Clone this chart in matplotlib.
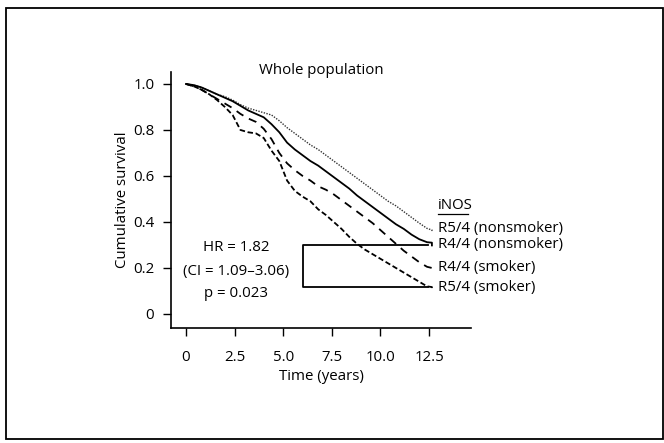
import matplotlib
matplotlib.use("Agg")
import matplotlib.pyplot as plt
from matplotlib.patches import Rectangle

plt.rcParams['font.family'] = ['Open Sans', 'DejaVu Sans']

# ---- data ----
time_pts = [0, 0.4, 0.8, 1.2, 1.6, 2.0, 2.4, 2.8, 3.2, 3.6, 4.0, 4.4, 4.8, 5.2,
            5.6, 6.0, 6.4, 6.8, 7.2, 7.6, 8.0, 8.4, 8.8, 9.2, 9.6, 10.0, 10.4,
            10.8, 11.2, 11.6, 12.0, 12.4, 12.65, 12.65]

r54_nonsmoker = [1.0, 0.995, 0.985, 0.97, 0.955, 0.945, 0.93, 0.91, 0.895, 0.885,
                 0.875, 0.865, 0.84, 0.81, 0.785, 0.76, 0.735, 0.715, 0.69, 0.665,
                 0.64, 0.615, 0.59, 0.565, 0.54, 0.515, 0.49, 0.47, 0.445, 0.42,
                 0.395, 0.372, 0.365, 0.355]
r44_nonsmoker = [1.0, 0.995, 0.985, 0.97, 0.955, 0.94, 0.925, 0.905, 0.885, 0.87,
                 0.855, 0.825, 0.79, 0.745, 0.715, 0.69, 0.665, 0.645, 0.62, 0.595,
                 0.57, 0.545, 0.515, 0.49, 0.465, 0.44, 0.415, 0.39, 0.37, 0.345,
                 0.325, 0.312, 0.31, 0.298]
r44_smoker = [1.0, 0.99, 0.975, 0.955, 0.935, 0.915, 0.895, 0.87, 0.85, 0.835,
              0.805, 0.76, 0.70, 0.655, 0.625, 0.60, 0.58, 0.555, 0.54, 0.52,
              0.495, 0.47, 0.445, 0.42, 0.395, 0.365, 0.335, 0.305, 0.275, 0.25,
              0.225, 0.205, 0.20, 0.19]
r54_smoker = [1.0, 0.99, 0.975, 0.955, 0.93, 0.90, 0.865, 0.80, 0.79, 0.785,
              0.765, 0.71, 0.665, 0.58, 0.535, 0.51, 0.49, 0.455, 0.43, 0.40,
              0.37, 0.335, 0.305, 0.28, 0.26, 0.24, 0.22, 0.20, 0.18, 0.16,
              0.14, 0.12, 0.117, 0.107]

series_labels = ['R5/4 (nonsmoker)', 'R4/4 (nonsmoker)', 'R4/4 (smoker)', 'R5/4 (smoker)']
label_y = [0.372, 0.302, 0.200, 0.117]

x_ticks = [0, 2.5, 5.0, 7.5, 10.0, 12.5]
x_tick_labels = ['0', '2.5', '5.0', '7.5', '10.0', '12.5']
y_ticks = [0, 0.2, 0.4, 0.6, 0.8, 1.0]
y_tick_labels = ['0', '0.2', '0.4', '0.6', '0.8', '1.0']

bracket_t = [12.45, 6.0, 6.0, 12.45]
bracket_v = [0.30, 0.30, 0.117, 0.117]

FS = 10.8

# ---- figure ----
fig = plt.figure(figsize=(6.64, 4.43), dpi=100)
ax = fig.add_axes([171/664, 1-328/443, 300/664, 256/443])

ax.plot(time_pts, r54_nonsmoker, color='#333333', lw=1.0, ls=(0, (1, 1)))
ax.plot(time_pts, r44_nonsmoker, color='black', lw=1.3, ls='-')
ax.plot(time_pts, r44_smoker, color='black', lw=1.3, ls=(0, (4.5, 3.5)))
ax.plot(time_pts, r54_smoker, color='black', lw=1.3, ls=(0, (3, 1.5)))

ax.plot(bracket_t, bracket_v, color='black', lw=1.3)

ax.set_xlim(-0.77, 14.66)
ax.set_ylim(-0.061, 1.052)
ax.set_xticks(x_ticks)
ax.set_xticklabels(x_tick_labels)
ax.set_yticks(y_ticks)
ax.set_yticklabels(y_tick_labels)
ax.tick_params(axis='x', length=6, width=1, pad=10, labelsize=FS)
ax.tick_params(axis='y', length=6, width=1, pad=6, labelsize=FS)
for s in ['top', 'right']:
    ax.spines[s].set_visible(False)
for s in ['left', 'bottom']:
    ax.spines[s].set_linewidth(1.2)

ax.set_xlabel('Time (years)', fontsize=FS, labelpad=3)
ax.set_ylabel('Cumulative survival', fontsize=FS, labelpad=2)
ax.text(0.5, 1.004, 'Whole population', transform=ax.transAxes,
        ha='center', va='center', fontsize=FS)

# annotations
ax.text(2.57, 0.29, 'HR = 1.82', ha='center', va='center', fontsize=FS)
ax.text(2.57, 0.185, '(CI = 1.09\u20133.06)', ha='center', va='center', fontsize=FS)
ax.text(2.57, 0.09, 'p = 0.023', ha='center', va='center', fontsize=FS)

ax.text(12.96, 0.47, 'iNOS', ha='left', va='center', fontsize=FS)
ax.plot([12.96, 14.5], [0.433, 0.433], color='black', lw=0.9, clip_on=False)
for lab, yy in zip(series_labels, label_y):
    ax.text(12.96, yy, lab, ha='left', va='center', fontsize=FS)

# outer frame
fig.patches.append(Rectangle((6/664, 1-439/443), 657/664, 431/443,
                             transform=fig.transFigure, fill=False,
                             edgecolor='black', lw=1.3))

fig.savefig('out.png', dpi=100)
